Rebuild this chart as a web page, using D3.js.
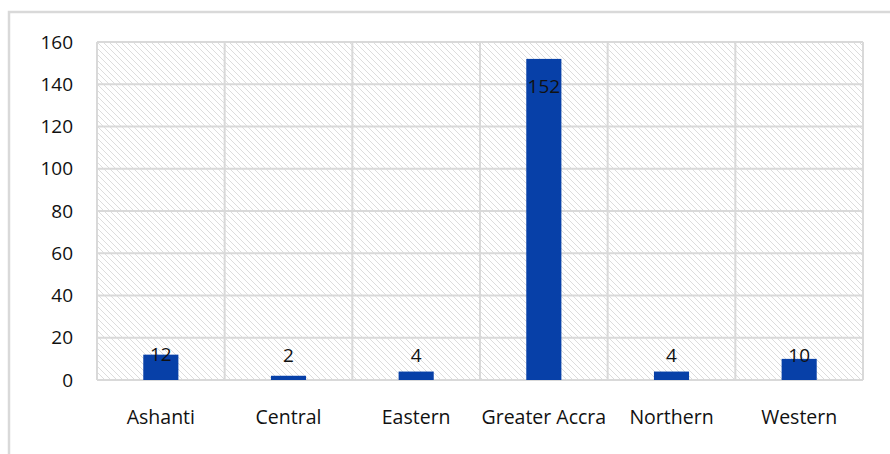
<!DOCTYPE html>
<html>
<head>
<meta charset="utf-8">
<script src="https://cdn.jsdelivr.net/npm/d3@7"></script>
<style>
  body { margin: 0; background: #fff; }
  svg text { font-family: "Open Sans", "Liberation Sans", sans-serif; fill: #111; }
</style>
</head>
<body>
<div id="chart-area"></div>
<script>
// region counts
const regions = ["Ashanti", "Central", "Eastern", "Greater Accra", "Northern", "Western"]
const counts = [12, 2, 4, 152, 4, 10]
const yTicks = [0, 20, 40, 60, 80, 100, 120, 140, 160]

const W = 890
const H = 454
const margin = { left: 97, top: 42, right: 27, bottom: 74 }
const innerW = W - margin.left - margin.right
const innerH = H - margin.top - margin.bottom

const svg = d3.select("#chart-area")
  .append("svg")
  .attr("width", W)
  .attr("height", H)

// hatch pattern
const pat = svg.append("defs").append("pattern")
  .attr("id", "hatch")
  .attr("patternUnits", "userSpaceOnUse")
  .attr("width", 6)
  .attr("height", 6)
pat.append("path")
  .attr("d", "M-1,-1 L7,7 M-4,2 L2,8 M4,-2 L8,2")
  .attr("stroke", "#d4d4d4")
  .attr("stroke-width", 0.8)

// outer frame
svg.append("rect")
  .attr("x", 9).attr("y", 12)
  .attr("width", W + 20).attr("height", H + 20)
  .attr("fill", "none")
  .attr("stroke", "#d9d9d9")
  .attr("stroke-width", 2.5)

const g = svg.append("g")
  .attr("transform", `translate(${margin.left}, ${margin.top})`)

const x = d3.scaleBand()
  .domain(regions)
  .range([0, innerW])
  .paddingInner(0.725)
  .paddingOuter(0.3625)

const y = d3.scaleLinear()
  .domain([0, 160])
  .range([innerH, 0])

g.append("rect")
  .attr("width", innerW)
  .attr("height", innerH)
  .attr("fill", "url(#hatch)")

// horizontal grid
g.selectAll(".hgrid")
  .data(yTicks)
  .enter().append("line")
  .attr("class", "hgrid")
  .attr("x1", 0).attr("x2", innerW)
  .attr("y1", d => y(d)).attr("y2", d => y(d))
  .attr("stroke", "#d9d9d9")
  .attr("stroke-width", 2)

// vertical category dividers
const divs = d3.range(regions.length + 1)
g.selectAll(".vgrid")
  .data(divs)
  .enter().append("line")
  .attr("class", "vgrid")
  .attr("x1", i => i * innerW / regions.length)
  .attr("x2", i => i * innerW / regions.length)
  .attr("y1", 0).attr("y2", innerH)
  .attr("stroke", "#d9d9d9")
  .attr("stroke-width", 2)

// y axis labels
const yAxis = d3.axisLeft(y).tickValues(yTicks).tickSize(0).tickPadding(24)
g.append("g")
  .call(yAxis)
  .call(s => s.select(".domain").remove())
  .selectAll("text")
  .attr("font-size", "19px")

// x axis labels
const xAxis = d3.axisBottom(x).tickSize(0).tickPadding(30)
g.append("g")
  .attr("transform", `translate(0, ${innerH})`)
  .call(xAxis)
  .call(s => s.select(".domain").remove())
  .selectAll("text")
  .attr("font-size", "19.5px")

// bars
const data = regions.map((r, i) => ({ region: r, count: counts[i] }))
g.selectAll(".bar")
  .data(data)
  .enter().append("rect")
  .attr("class", "bar")
  .attr("x", d => x(d.region))
  .attr("y", d => y(d.count))
  .attr("width", x.bandwidth())
  .attr("height", d => innerH - y(d.count))
  .attr("fill", "#0740a8")

// value labels
g.selectAll(".lbl")
  .data(data)
  .enter().append("text")
  .attr("class", "lbl")
  .attr("x", d => x(d.region) + x.bandwidth() / 2)
  .attr("y", d => y(Math.max(Math.min(d.count, 139), 11.5)))
  .attr("dy", "0.35em")
  .attr("text-anchor", "middle")
  .attr("font-size", "19px")
  .text(d => d.count)
</script>
</body>
</html>
